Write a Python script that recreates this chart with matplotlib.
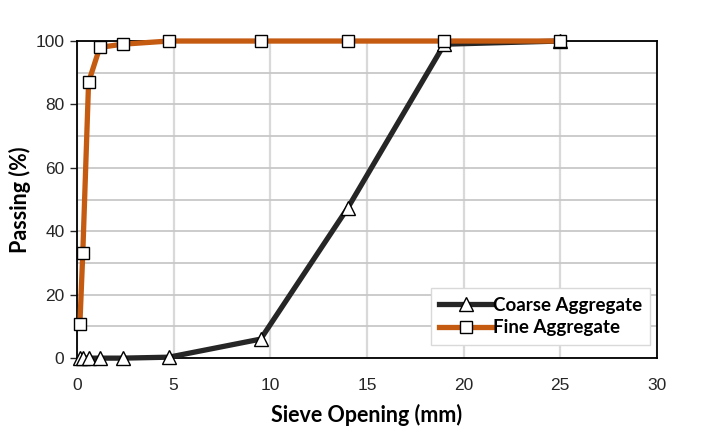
import matplotlib
matplotlib.use("Agg")
import matplotlib.pyplot as plt
from matplotlib.ticker import MultipleLocator

sieve_mm = [0.15, 0.3, 0.6, 1.18, 2.36, 4.75, 9.5, 14, 19, 25]
coarse_passing = [0, 0, 0, 0, 0, 0.3, 6, 47.3, 99, 100]
fine_passing = [10.7, 33, 87, 98, 99, 100, 100, 100, 100, 100]

fig = plt.figure(figsize=(7.03, 4.46), dpi=100)
ax = fig.add_axes([0.1095, 0.197, 0.825, 0.711])

ax.plot(sieve_mm, coarse_passing, color="#262626", lw=3.8, marker="^",
        ms=10, mfc="white", mec="black", mew=1.0, label="Coarse Aggregate",
        zorder=3, clip_on=False)
ax.plot(sieve_mm, fine_passing, color="#C55A11", lw=3.8, marker="s",
        ms=9, mfc="white", mec="black", mew=1.0, label="Fine Aggregate",
        zorder=4, clip_on=False)

ax.set_xlim(0, 30)
ax.set_ylim(0, 100)
ax.xaxis.set_major_locator(MultipleLocator(5))
ax.yaxis.set_major_locator(MultipleLocator(20))
ax.yaxis.set_minor_locator(MultipleLocator(10))
ax.grid(True, which="major", axis="x", color="#d9d9d9", lw=1.6)
ax.grid(True, which="both", axis="y", color="#c8c8c8", lw=1.3)
ax.set_axisbelow(True)
for s in ax.spines.values():
    s.set_color("black")
    s.set_linewidth(1.3)
    s.set_zorder(2.5)

ax.tick_params(axis="x", length=0, pad=14, labelsize=12.5, colors="#262626")
ax.tick_params(axis="y", which="major", length=5, width=1, direction="out",
               labelsize=12.5, colors="#262626", pad=4)
ax.tick_params(axis="y", which="minor", length=0)
for lab in ax.get_xticklabels() + ax.get_yticklabels():
    lab.set_fontfamily("Liberation Sans")
    lab.set_color("#262626")

ax.set_xlabel("Sieve Opening (mm)", fontsize=15.5, fontweight="bold",
              fontfamily="Lato", labelpad=8)
ax.set_ylabel("Passing (%)", fontsize=15.5, fontweight="bold",
              fontfamily="Lato", labelpad=3)

leg = ax.legend(loc="lower right", bbox_to_anchor=(0.995, 0.03),
                prop={"family": "Lato", "weight": "bold", "size": 13.5},
                frameon=True, fancybox=False, edgecolor="#d9d9d9",
                framealpha=1, handlelength=2.8, handletextpad=0.05,
                borderpad=0.45, labelspacing=0.3, borderaxespad=0.2)
leg.get_frame().set_linewidth(1.0)

fig.savefig("out.png", dpi=100)
